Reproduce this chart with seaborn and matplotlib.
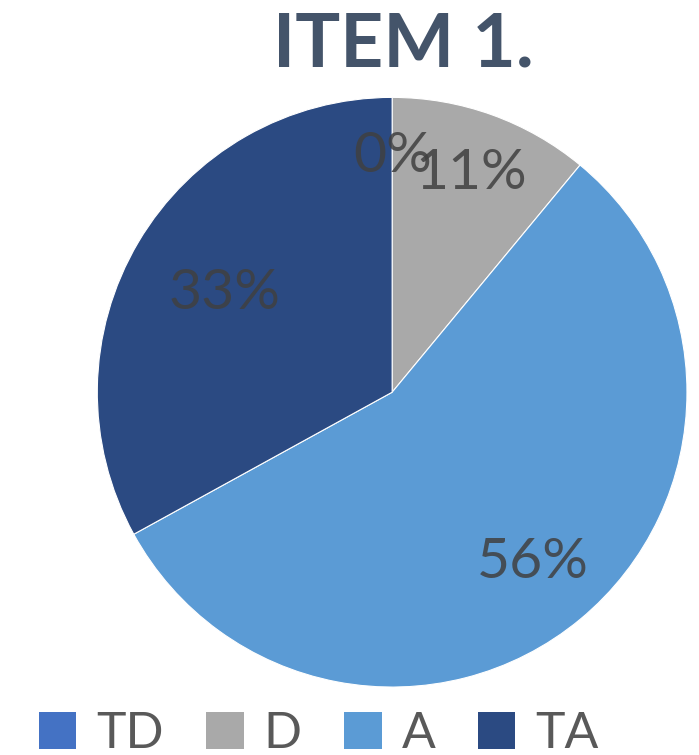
import numpy as np
import matplotlib
matplotlib.use("Agg")
import matplotlib.pyplot as plt
import seaborn as sns
from matplotlib.patches import Patch

# data
categories = ['TD', 'D', 'A', 'TA']
shares = [0, 11, 56, 33]
pct_labels = ['0%', '11%', '56%', '33%']
label_dist = [0.80, 0.79, 0.75, 0.66]
colours = ['#4472C4', '#A9A9A9', '#5B9BD5', '#2B4A82']

sns.set_style("white")
plt.rcParams['font.family'] = ['Lato', 'DejaVu Sans']

fig = plt.figure(figsize=(6.99, 7.55), dpi=100)
ax = fig.add_axes([0.139, 0.090, 0.844, 0.781])

wedges, _ = ax.pie(shares, colors=colours, startangle=90, counterclock=False,
                   radius=1, wedgeprops={'edgecolor': '#ffffff', 'linewidth': 0.8})
ax.set_xlim(-1, 1)
ax.set_ylim(-1, 1)
ax.set_aspect('equal')
ax.axis('off')

for w, txt, d in zip(wedges, pct_labels, label_dist):
    mid = np.deg2rad((w.theta1 + w.theta2) / 2)
    ax.text(d * np.cos(mid), d * np.sin(mid), txt, ha='center', va='center',
            fontsize=41, color='#404040', alpha=0.85)

fig.text(0.577, 0.940, 'ITEM 1.', ha='center', va='center',
         fontsize=54, fontweight='bold', color='#44546A')

handles = [Patch(facecolor=c, edgecolor='none') for c in colours]
fig.legend(handles, categories, loc='lower center', bbox_to_anchor=(0.456, -0.062),
           ncol=4, frameon=False, fontsize=36, labelcolor='#595959',
           handlelength=0.75, handleheight=0.75, handletextpad=0.4,
           columnspacing=0.85)

fig.savefig('out.png', dpi=100)
